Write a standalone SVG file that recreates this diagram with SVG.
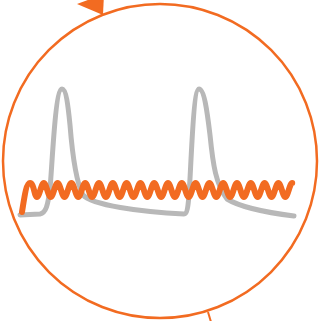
<svg xmlns="http://www.w3.org/2000/svg" width="323" height="321" viewBox="0 0 323 321">
<style>
.ring{fill:none;stroke:#f26b21;stroke-width:2.5}
.grey{fill:none;stroke:#b8b8b8;stroke-width:5;stroke-linecap:round;stroke-linejoin:round}
.wave{fill:none;stroke:#f26b21;stroke-width:6;stroke-linecap:round;stroke-linejoin:round}
</style>
<rect width="323" height="321" fill="#ffffff"/>
<g id="ring">
<circle class="ring" cx="160" cy="161" r="157"/>
<polygon points="77,4 104,-6 103,15" fill="#f26b21"/>
<line x1="208" y1="312" x2="211" y2="322" stroke="#f26b21" stroke-width="2"/>
</g>
<g id="pulses">
<path class="grey" d="M 20 215 L 40 214 C 46 213, 48 205, 50 188 C 52 170, 55 89, 62 89 C 66 89, 68 105, 70 125 C 72 150, 75 180, 83 195 C 92 205, 140 212, 184 214 C 187 214, 188 207, 189 195 C 191 170, 193 89, 199 89 C 204 89, 207 110, 210 135 C 213 165, 216 185, 227 199 C 240 207, 270 213, 294 216"/>
</g>
<g id="oscillation">
<path class="wave" d="M 22 212 C 24 200, 26 183, 30 183 S 34.4 197, 36.9 197 S 41.3 183, 43.8 183 S 48.2 197, 50.7 197 S 55.1 183, 57.6 183 S 62 197, 64.5 197 S 68.9 183, 71.4 183 S 75.8 197, 78.3 197 S 82.7 183, 85.2 183 S 89.6 197, 92.1 197 S 96.5 183, 99 183 S 103.4 197, 105.9 197 S 110.3 183, 112.8 183 S 117.2 197, 119.7 197 S 124.1 183, 126.6 183 S 131 197, 133.5 197 S 137.9 183, 140.4 183 S 144.8 197, 147.3 197 S 151.7 183, 154.2 183 S 158.6 197, 161.1 197 S 165.5 183, 168 183 S 172.4 197, 174.9 197 S 179.3 183, 181.8 183 S 186.2 197, 188.7 197 S 193.1 183, 195.6 183 S 200 197, 202.5 197 S 206.9 183, 209.4 183 S 213.8 197, 216.3 197 S 220.7 183, 223.2 183 S 227.6 197, 230.1 197 S 234.5 183, 237 183 S 241.4 197, 243.9 197 S 248.3 183, 250.8 183 S 255.2 197, 257.7 197 S 262.1 183, 264.6 183 S 269 197, 271.5 197 S 275.9 183, 278.4 183 S 282.8 197, 285.3 197 S 289.7 183, 292.2 183"/>
</g>
</svg>
